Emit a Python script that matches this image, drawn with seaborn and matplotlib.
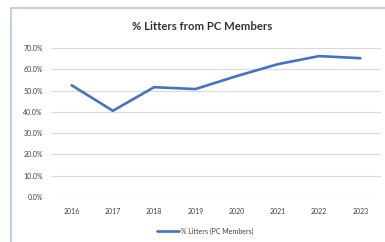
import matplotlib
matplotlib.use("Agg")
import matplotlib.pyplot as plt
import seaborn as sns
import pandas as pd
from matplotlib.lines import Line2D
from matplotlib.ticker import FuncFormatter

years = ["2016", "2017", "2018", "2019", "2020", "2021", "2022", "2023"]
pct_litters = [0.525, 0.405, 0.516, 0.507, 0.568, 0.624, 0.662, 0.652]
series_name = "% Litters (PC Members)"
title = "% Litters from PC Members"

sns.set_theme(style="white")
plt.rcParams['font.family'] = ['Lato', 'DejaVu Sans']

df = pd.DataFrame({"Year": years, "Value": pct_litters, "Series": series_name})

fig = plt.figure(figsize=(3.85, 2.42), dpi=100)
fig.patch.set_facecolor("white")
W, H = 385, 242
ax = fig.add_axes([51 / W, (242 - 197) / H, (381 - 51) / W, (197 - 48) / H])

sns.lineplot(data=df, x="Year", y="Value", hue="Series", palette=["#4472C4"],
             linewidth=1.9, ax=ax, sort=False)

ax.set_xlim(-0.5, 7.5)
ax.set_ylim(0, 0.7)
ax.set_yticks([i / 10 for i in range(8)])
ax.yaxis.set_major_formatter(FuncFormatter(lambda v, p: f"{v*100:.1f}%"))
ax.grid(axis="y", color="#d9d9d9", linewidth=0.8)
ax.grid(axis="x", visible=False)
for s in ax.spines.values():
    s.set_visible(False)
ax.tick_params(axis="both", length=0, labelsize=5, colors="#404040")
ax.tick_params(axis="y", pad=6)
ax.tick_params(axis="x", pad=8)
ax.set_xlabel("")
ax.set_ylabel("")

handles = ax.get_legend_handles_labels()[0]
ax.get_legend().remove()
leg = fig.legend(handles=handles, labels=[series_name],
                 loc="center", bbox_to_anchor=(205 / W, 1 - 231 / H),
                 frameon=False, fontsize=5, handlelength=3.2, handletextpad=0.3)
for t in leg.get_texts():
    t.set_color("#404040")

fig.text(202 / W, 1 - 27 / H, title, ha="center", va="center", fontsize=8.2,
         color="#333333", weight="bold")

border = "#b4c7e7"
fig.add_artist(Line2D([11 / W, 11 / W], [0, 1 - 8 / H], transform=fig.transFigure,
                      color=border, linewidth=1.2))
fig.add_artist(Line2D([11 / W, 1], [1 - 8 / H, 1 - 8 / H], transform=fig.transFigure,
                      color=border, linewidth=1.2))

fig.savefig("out.png", dpi=100)
